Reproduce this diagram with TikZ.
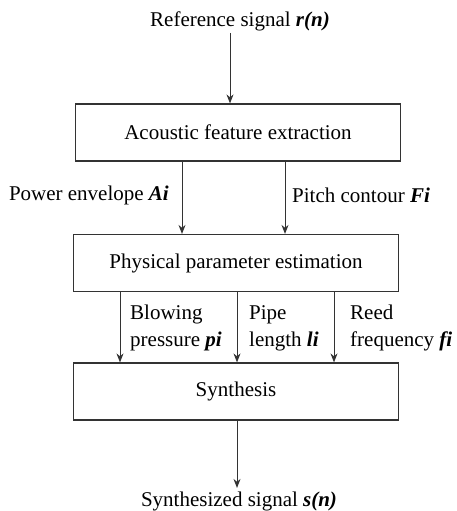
\documentclass[tikz,border=0pt]{standalone}
\usepackage{fontspec}
\setmainfont{Liberation Serif}
\usetikzlibrary{arrows.meta}
\newcommand{\bi}[1]{\textbf{\textit{#1}}}
\begin{document}
\begin{tikzpicture}[x=1pt,y=1pt,
  every node/.style={font=\fontsize{21}{27}\selectfont, text=black},
  blk/.style={draw=black!80, line width=1.2pt, minimum width=325pt, minimum height=57pt, inner sep=0pt},
  arr/.style={draw=black!80, line width=0.9pt, -{Stealth[length=9pt,width=7pt]}},
  lbl/.style={inner sep=0pt, align=left}]
\useasboundingbox (0,0) rectangle (456,-511);
\node (ref) at (240,-21) {Reference signal \bi{r(n)}};
\node[blk] (b1) at (238,-132.5) {Acoustic feature extraction};
\node[blk] (b2) at (236,-263) {Physical parameter estimation};
\node[blk] (b3) at (236,-391.5) {Synthesis};
\node (out) at (239,-501) {Synthesized signal \bi{s(n)}};
\coordinate (r0) at (230,-33);
\draw[arr] (r0) -- (b1.north -| r0);
\coordinate (a1) at (182,0);
\coordinate (a2) at (285,0);
\draw[arr] (b1.south -| a1) -- (b2.north -| a1);
\draw[arr] (b1.south -| a2) -- (b2.north -| a2);
\node[lbl, anchor=east] (la) at (169,-195) {Power envelope \bi{Ai}};
\node[lbl, anchor=west] (lf) at (292,-195) {Pitch contour \bi{Fi}};
\coordinate (p1) at (120,0);
\coordinate (p2) at (237,0);
\coordinate (p3) at (334,0);
\draw[arr] (b2.south -| p1) -- (b3.north -| p1);
\draw[arr] (b2.south -| p2) -- (b3.north -| p2);
\draw[arr] (b2.south -| p3) -- (b3.north -| p3);
\node[lbl, anchor=west] (lp) at (130,-328) {Blowing\\pressure \bi{pi}};
\node[lbl, anchor=west] (ll) at (249,-328) {Pipe\\length \bi{li}};
\node[lbl, anchor=west] (lr) at (350,-328) {Reed\\frequency \bi{fi}};
\draw[arr] (b3.south -| p2) -- (out.north -| p2);
\end{tikzpicture}
\end{document}
